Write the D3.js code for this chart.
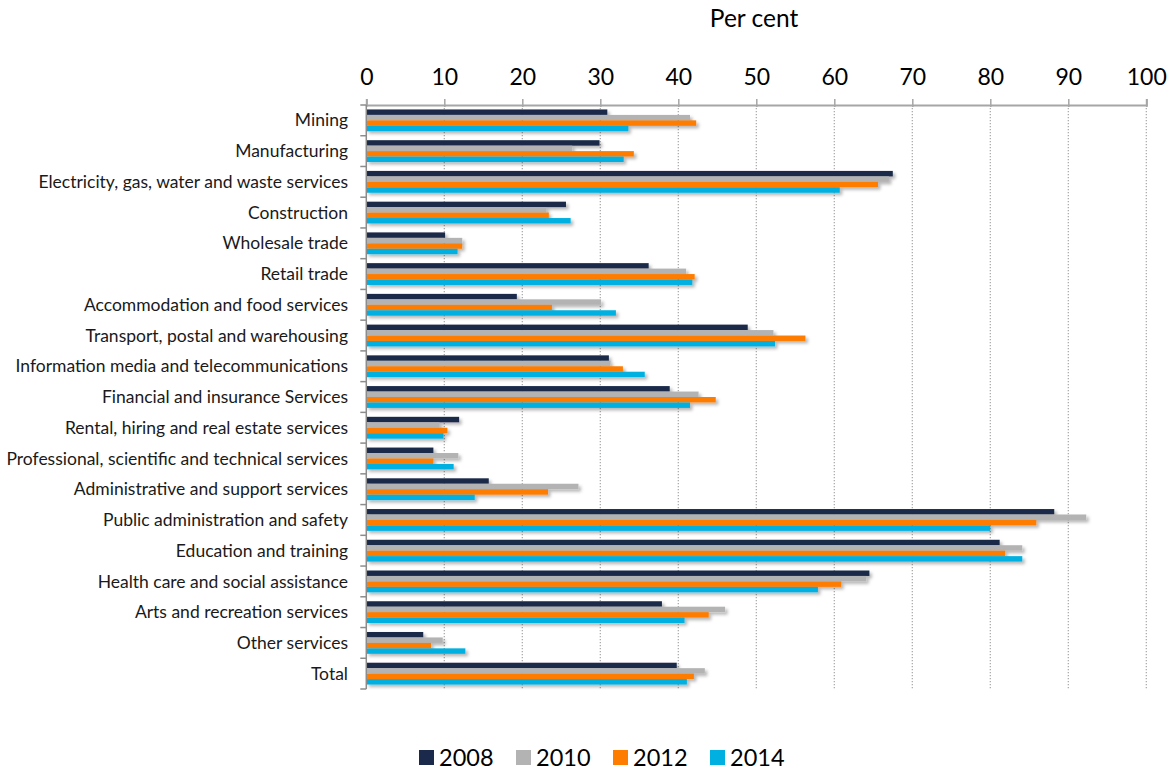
<!DOCTYPE html>
<html>
<head>
<meta charset="utf-8">
<script src="https://cdn.jsdelivr.net/npm/d3@7"></script>
<style>
  body { margin: 0; background: #fff; }
  svg { display: block; font-family: Lato, "Open Sans", sans-serif; }
</style>
</head>
<body>
<svg id="chart" width="1174" height="770"></svg>
<script>
const categories = [
  "Mining",
  "Manufacturing",
  "Electricity, gas, water and waste services",
  "Construction",
  "Wholesale trade",
  "Retail trade",
  "Accommodation and food services",
  "Transport, postal and warehousing",
  "Information media and telecommunications",
  "Financial and insurance Services",
  "Rental, hiring and real estate services",
  "Professional, scientific and technical services",
  "Administrative and support services",
  "Public administration and safety",
  "Education and training",
  "Health care and social assistance",
  "Arts and recreation services",
  "Other services",
  "Total"
];
const seriesNames = ["2008", "2010", "2012", "2014"];
const values2008 = [30.9, 29.9, 67.5, 25.6, 10.1, 36.2, 19.3, 48.9, 31.1, 38.9, 11.9, 8.6, 15.7, 88.2, 81.2, 64.5, 37.9, 7.3, 39.8];
const values2010 = [41.5, 26.4, 67.0, 23.1, 12.3, 41.0, 30.1, 52.2, 31.3, 42.6, 9.4, 11.8, 27.2, 92.3, 84.1, 64.1, 46.0, 9.8, 43.4];
const values2012 = [42.3, 34.3, 65.6, 23.4, 12.3, 42.1, 23.8, 56.3, 32.9, 44.8, 10.4, 8.6, 23.3, 85.9, 81.9, 60.9, 43.9, 8.3, 42.0];
const values2014 = [33.6, 33.0, 60.7, 26.2, 11.7, 41.8, 32.0, 52.4, 35.7, 41.5, 9.9, 11.2, 13.9, 80.0, 84.1, 57.9, 40.8, 12.7, 41.1];
const xTicks = [0, 10, 20, 30, 40, 50, 60, 70, 80, 90, 100];
const colors = ["#1b2a4a", "#b3b3b3", "#fe7c00", "#00b0e0"];

const allSeries = [values2008, values2010, values2012, values2014];

const svg = d3.select("#chart");
const x = d3.scaleLinear().domain([0, 100]).range([366.3, 1146.3]);
const y = d3.scaleBand().domain(categories).range([105, 689]).paddingInner(0.29).paddingOuter(0.145);
const ySub = d3.scaleBand().domain(seriesNames).range([0, y.bandwidth()]);

// shadow filter
const defs = svg.append("defs");
const f = defs.append("filter").attr("id", "shadow").attr("x", "-5%").attr("y", "-50%").attr("width", "115%").attr("height", "250%");
f.append("feDropShadow").attr("dx", 2.5).attr("dy", 2.5).attr("stdDeviation", 1.6)
  .attr("flood-color", "#000").attr("flood-opacity", 0.28);

// gridlines
svg.append("g").selectAll("line")
  .data(xTicks.filter(d => d > 0))
  .join("line")
  .attr("x1", d => x(d)).attr("x2", d => x(d))
  .attr("y1", 105).attr("y2", 689)
  .attr("stroke", "#a6a6a6").attr("stroke-width", 1.2)
  .attr("stroke-dasharray", "1.3,1.7");

// bars
const groups = svg.append("g").selectAll("g")
  .data(categories)
  .join("g")
  .attr("transform", d => `translate(0,${y(d)})`);

groups.selectAll("rect")
  .data((c, i) => seriesNames.map((s, j) => ({s, v: allSeries[j][i], j})))
  .join("rect")
  .attr("x", x(0))
  .attr("y", d => ySub(d.s))
  .attr("width", d => x(d.v) - x(0))
  .attr("height", ySub.bandwidth())
  .attr("fill", d => colors[d.j])
  .attr("filter", "url(#shadow)");

// top axis
const xAxis = d3.axisTop(x).tickValues(xTicks).tickSize(6).tickPadding(14);
const gx = svg.append("g").attr("transform", "translate(0,105)").call(xAxis);
gx.select(".domain").attr("stroke", "#a6a6a6").attr("stroke-width", 2);
gx.selectAll(".tick line").attr("stroke", "#a6a6a6").attr("stroke-width", 1.5).attr("y2", -6).attr("y1", 2);
gx.selectAll(".tick text").attr("font-size", 23).attr("fill", "#000").attr("font-family", "Lato, sans-serif");

// left axis
const yBound = d3.scaleLinear().domain([0, categories.length]).range([105, 689]);
const gy = svg.append("g");
gy.append("line").attr("x1", x(0)).attr("x2", x(0)).attr("y1", 105).attr("y2", 689)
  .attr("stroke", "#8c8c8c").attr("stroke-width", 1.5);
gy.selectAll("line.tk").data(d3.range(categories.length + 1)).join("line").attr("class", "tk")
  .attr("x1", x(0) - 6).attr("x2", x(0))
  .attr("y1", d => yBound(d)).attr("y2", d => yBound(d))
  .attr("stroke", "#8c8c8c").attr("stroke-width", 1.5);
gy.selectAll("text").data(categories).join("text")
  .attr("x", 348)
  .attr("y", d => y(d) + y.bandwidth() / 2)
  .attr("dy", "0.35em")
  .attr("text-anchor", "end")
  .attr("font-size", 17.5)
  .attr("fill", "#1a1a1a")
  .text(d => d);

// title
svg.append("text").attr("x", 754).attr("y", 27).attr("text-anchor", "middle")
  .attr("font-size", 24.5).attr("fill", "#000").text("Per cent");

// legend
const legendItems = seriesNames.map((s, i) => ({s, c: colors[i]}));
const legX = [419, 516, 613, 710];
const lg = svg.append("g").selectAll("g").data(legendItems).join("g")
  .attr("transform", (d, i) => `translate(${legX[i]},750)`);
lg.append("rect").attr("x", 0).attr("y", 0).attr("width", 15).attr("height", 15).attr("fill", d => d.c);
lg.append("text").attr("x", 20).attr("y", 16).attr("font-size", 23.5).attr("fill", "#000").text(d => d.s);
</script>
</body>
</html>
